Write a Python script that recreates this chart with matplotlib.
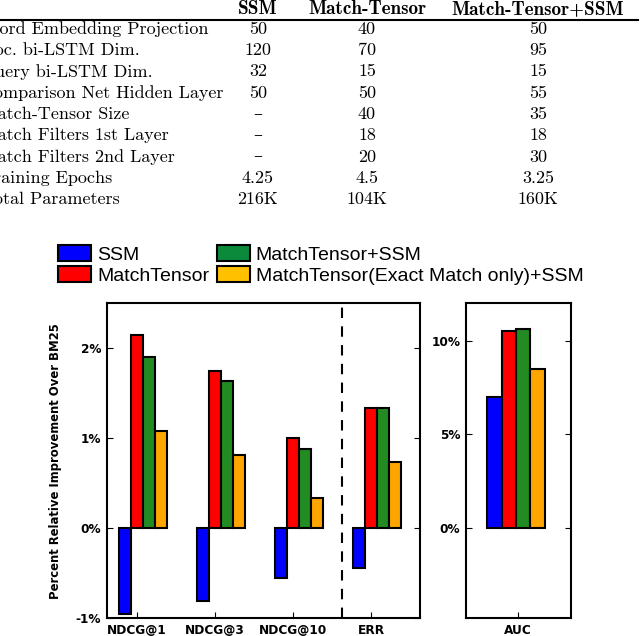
import matplotlib
matplotlib.use("Agg")
import matplotlib.pyplot as plt
from matplotlib.patches import Patch
from matplotlib.ticker import FuncFormatter, FixedLocator
import numpy as np

# ---------------- table data ----------------
table_header = ["SSM", "Match-Tensor", "Match-Tensor+SSM"]
row_labels = ["Word Embedding Projection", "Doc. bi-LSTM Dim.", "Query bi-LSTM Dim.",
              "Comparison Net Hidden Layer", "Match-Tensor Size", "Match Filters 1st Layer",
              "Match Filters 2nd Layer", "Training Epochs", "Total Parameters"]
col_ssm = ["50", "120", "32", "50", "\u2013", "\u2013", "\u2013", "4.25", "216K"]
col_mt = ["40", "70", "15", "50", "40", "18", "20", "4.5", "104K"]
col_mt_ssm = ["50", "95", "15", "55", "35", "18", "30", "3.25", "160K"]

# ---------------- chart data ----------------
metrics = ["NDCG@1", "NDCG@3", "NDCG@10", "ERR"]
series_names = ["SSM", "MatchTensor", "MatchTensor+SSM", "MatchTensor(Exact Match only)+SSM"]
ssm = [-0.95, -0.81, -0.55, -0.44]
match_tensor = [2.15, 1.74, 1.00, 1.33]
match_tensor_ssm = [1.90, 1.63, 0.88, 1.33]
match_tensor_exact_ssm = [1.08, 0.81, 0.33, 0.73]
auc_label = ["AUC"]
auc_values = [7.0, 10.5, 10.6, 8.5]

bar_colors = ["#0000ff", "#ff0000", "#228b22", "#ffa500"]
legend_colors = ["#0000ff", "#ff0000", "#0b8a3c", "#ffc000"]

W, H = 640, 636
fig = plt.figure(figsize=(W / 100, H / 100), dpi=100)

def fx(px):
    return px / W

def fy(py):
    return 1 - py / H

# ---------------- table ----------------
tfont = ["cmr10", "DejaVu Serif"]
bfont = ["cmb10", "DejaVu Serif"]
tsize = 13
hsize = 13.8
col_x = [258, 367, 538]
for cx, head in zip(col_x, table_header):
    fig.text(fx(cx), fy(14), head, ha="center", va="baseline",
             family=bfont, fontsize=hsize)
fig.add_artist(plt.Line2D([fx(0), fx(638)], [fy(19.5), fy(19.5)], color="black",
                          linewidth=1.5, transform=fig.transFigure))
for i, lab in enumerate(row_labels):
    yb = 34 + i * 21.25
    fig.text(fx(-19), fy(yb), lab, ha="left", va="baseline", family=tfont, fontsize=tsize)
    for cx, col in zip(col_x, [col_ssm, col_mt, col_mt_ssm]):
        fig.text(fx(cx), fy(yb), col[i], ha="center", va="baseline",
                 family=tfont, fontsize=tsize)

# ---------------- chart ----------------
ax = fig.add_axes([fx(106.7), fy(618.3), fx(420) - fx(106.7), fy(303) - fy(618.3)])
ax2 = fig.add_axes([fx(466), fy(618.3), fx(570.5) - fx(466), fy(303) - fy(618.3)])

w = 0.153
x = np.arange(len(metrics))
all_series = [ssm, match_tensor, match_tensor_ssm, match_tensor_exact_ssm]
for j, vals in enumerate(all_series):
    ax.bar(x + (j - 1) * w, vals, width=w, color=bar_colors[j], edgecolor="black",
           linewidth=1.5, zorder=2)

ax.axvline(2.625, color="black", linestyle=(0, (5, 4)), linewidth=1.5, zorder=3)
ax.set_xlim(-0.384, 3.627)
ax.set_ylim(-1, 2.5)
ax.yaxis.set_major_locator(FixedLocator([-1, 0, 1, 2]))
ax.yaxis.set_major_formatter(FuncFormatter(lambda v, p: f"{v:g}%"))
ax.set_xticks(x)
ax.set_xticklabels(metrics)
ax.set_ylabel("Percent Relative Improvement Over BM25", fontsize=8.4, fontweight="semibold")
ax.yaxis.set_label_coords(-0.1436, 0.497)

w2 = 0.1375
xa = np.arange(len(auc_values))
ax2.bar(-0.229 + xa * w2, auc_values, width=w2, color=bar_colors, edgecolor="black",
        linewidth=1.5, zorder=2)
ax2.set_xlim(-0.5, 0.5)
ax2.set_ylim(-4.8, 12)
ax2.yaxis.set_major_locator(FixedLocator([0, 5, 10]))
ax2.yaxis.set_major_formatter(FuncFormatter(lambda v, p: f"{v:g}%"))
ax2.set_xticks([0])
ax2.set_xticklabels(auc_label)

for a in (ax, ax2):
    for s in a.spines.values():
        s.set_linewidth(1.5)
    a.tick_params(axis="both", direction="in", length=4, width=0.8, pad=4,
                  labelsize=8.7)
    a.tick_params(axis="y", right=True)
    for t in a.get_xticklabels() + a.get_yticklabels():
        t.set_fontweight("bold")

handles = [Patch(facecolor=c, edgecolor="black", linewidth=1.5) for c in legend_colors]
leg = fig.legend(handles, series_names, loc="upper left", ncol=2,
                 bbox_to_anchor=(fx(58), fy(245)), frameon=False,
                 prop={"family": "Liberation Sans", "size": 14.0},
                 handlelength=1.7, handleheight=0.9, handletextpad=0.3,
                 labelspacing=0.1, columnspacing=0.4, borderpad=0, borderaxespad=0)

fig.savefig("out.png", dpi=100)
